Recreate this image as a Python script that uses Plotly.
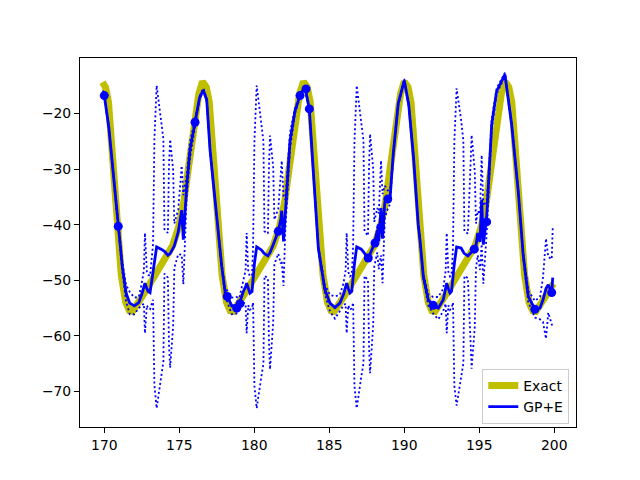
import plotly.graph_objects as go

# Exact solution
exact_x = [169.88, 170.08, 170.28, 170.53, 170.83, 171.13, 171.43, 171.68, 171.88, 172.13, 172.53, 172.93,
           173.33, 173.73, 174.13, 174.55, 174.95, 175.3, 175.6, 175.85, 176.1, 176.3,
           176.55, 176.8, 177.0, 177.25, 177.55, 177.85, 178.15, 178.4, 178.6, 178.85, 179.25, 179.65,
           180.05, 180.45, 180.85, 181.27, 181.67, 182.02, 182.32, 182.57, 182.82, 183.02,
           183.28, 183.53, 183.73, 183.98, 184.28, 184.58, 184.88, 185.13, 185.33, 185.58, 185.98, 186.38,
           186.78, 187.18, 187.58, 188.0, 188.4, 188.75, 189.05, 189.3, 189.55, 189.75,
           190.0, 190.25, 190.45, 190.7, 191.0, 191.3, 191.6, 191.85, 192.05, 192.3, 192.7, 193.1,
           193.5, 193.9, 194.3, 194.72, 195.12, 195.47, 195.77, 196.02, 196.27, 196.47,
           196.72, 196.97, 197.17, 197.42, 197.72, 198.02, 198.32, 198.57, 198.77, 199.02, 199.42, 199.94]
exact_y = [-14.4, -15.3, -18.0, -28.0, -40.5, -49.0, -54.0, -55.5, -55.6, -54.7, -52.9, -51.1,
           -49.4, -47.7, -46.0, -43.8, -40.5, -36.0, -30.0, -24.5, -19.8, -16.5,
           -14.3, -15.3, -18.0, -28.0, -40.5, -49.0, -54.0, -55.5, -55.6, -54.7, -52.9, -51.1,
           -49.4, -47.7, -46.0, -43.8, -40.5, -36.0, -30.0, -24.5, -19.8, -16.5,
           -14.3, -15.3, -18.0, -28.0, -40.5, -49.0, -54.0, -55.5, -55.6, -54.7, -52.9, -51.1,
           -49.4, -47.7, -46.0, -43.8, -40.5, -36.0, -30.0, -24.5, -19.8, -16.5,
           -14.3, -15.3, -18.0, -28.0, -40.5, -49.0, -54.0, -55.5, -55.6, -54.7, -52.9, -51.1,
           -49.4, -47.7, -46.0, -43.8, -40.5, -36.0, -30.0, -24.5, -19.8, -16.5,
           -14.3, -15.3, -18.0, -28.0, -40.5, -49.0, -54.0, -55.5, -55.6, -54.7, -52.9, -50.6]

# GP+E mean and band half-width (x, mean, half-width)
gp_x = [169.9, 170.0, 170.3, 170.6, 170.93, 171.2, 171.45, 171.7, 172.0, 172.3,
        172.5, 172.64, 172.71, 172.84, 172.93, 173.05, 173.25, 173.34, 173.49, 173.79, 173.94, 174.01,
        174.24, 174.31, 174.39, 174.59, 174.67, 174.93, 175.16, 175.27, 175.4, 175.49,
        175.71, 176.05, 176.35, 176.6, 176.83, 177.05, 177.49, 177.83, 178.05, 178.2, 178.5, 178.8, 179.0,
        179.27, 179.42, 179.49, 179.6, 179.71, 179.85, 179.92, 180.01, 180.16, 180.46, 180.61, 180.68,
        180.91, 180.98, 181.05, 181.26, 181.34, 181.6, 181.77, 181.83, 181.95, 182.06, 182.16,
        182.38, 182.71, 183.05, 183.38, 183.67, 183.95, 184.27, 184.71, 185.05, 185.38, 185.71,
        185.95, 186.09, 186.16, 186.27, 186.38, 186.5, 186.59, 186.68, 186.83, 187.13, 187.28, 187.35,
        187.58, 187.65, 187.72, 187.93, 188.0, 188.2, 188.3, 188.45, 188.55, 188.7, 188.83,
        189.05, 189.27, 189.6, 190.0, 190.3, 190.62, 190.93, 191.05, 191.27, 191.6, 191.93, 192.27,
        192.6, 192.76, 192.83, 192.94, 193.05, 193.15, 193.25, 193.34, 193.49, 193.79, 193.94, 194.01,
        194.24, 194.42, 194.49, 194.7, 194.78, 194.9, 195.05, 195.16, 195.27, 195.49, 195.6,
        195.83, 196.16, 196.71, 197.16, 197.6, 197.93, 198.27, 198.71, 199.05,
        199.25, 199.45, 199.6, 199.83, 199.9]
gp_mean = [-16.2, -16.8, -22.5, -31.0, -40.3, -47.5, -52.3, -54.1, -54.6, -54.0,
           -52.5, -51.2, -50.5, -51.5, -52.0, -52.2, -48.5, -46.8, -44.0, -44.4, -44.6, -44.8,
           -45.5, -45.4, -45.2, -44.2, -43.8, -41.3, -37.4, -42.7, -36.0, -33.2,
           -26.6, -21.6, -17.2, -15.8, -17.6, -26.6, -38.6, -47.5, -52.0, -52.9, -54.6, -54.5, -54.2,
           -52.0, -51.2, -50.5, -51.5, -52.3, -52.0, -49.0, -47.0, -44.0, -44.5, -45.0, -45.2,
           -45.6, -45.3, -45.0, -43.6, -43.1, -41.2, -39.0, -37.5, -43.0, -38.5, -34.0,
           -25.0, -19.6, -16.8, -15.3, -19.2, -31.0, -44.2, -51.7, -54.1, -54.9, -54.1,
           -52.5, -51.2, -50.5, -51.5, -52.3, -52.0, -49.0, -47.0, -44.0, -44.4, -44.9, -45.2,
           -46.0, -45.7, -45.2, -44.0, -43.5, -41.0, -43.0, -37.0, -42.5, -36.0, -35.6,
           -35.3, -27.2, -18.2, -14.1, -18.5, -28.0, -40.0, -42.8, -49.3, -53.5, -54.5, -55.0,
           -53.5, -51.2, -50.5, -51.5, -52.3, -52.0, -49.0, -47.0, -44.0, -44.2, -44.9, -45.2,
           -45.6, -45.0, -44.9, -44.4, -43.8, -41.5, -43.1, -35.5, -43.6, -38.8, -34.0,
           -22.0, -16.0, -13.0, -22.0, -34.0, -45.5, -52.9, -55.2, -55.0,
           -53.5, -51.5, -50.8, -52.2, -49.5]
gp_w = [0.3, 0.2, 0.3, 0.4, 0.3, 0.8, 1.5, 2.0, 1.5, 1.0,
        2.0, 3.0, 9.0, 3.0, 3.0, 3.0, 5.0, 22.0, 29.0, 23.0, 20.0, 4.0,
        4.0, 16.0, 20.5, 14.0, 4.0, 4.0, 8.0, 8.0, 3.0, 2.0,
        1.5, 0.5, 0.3, 0.3, 0.3, 0.3, 0.3, 0.5, 0.8, 1.0, 1.5, 1.5, 1.0,
        2.0, 3.0, 9.0, 3.0, 3.0, 3.0, 5.0, 22.0, 29.0, 23.0, 20.0, 4.0,
        4.0, 16.0, 21.0, 14.0, 4.0, 4.0, 8.0, 9.0, 8.0, 3.0, 2.0,
        1.5, 0.5, 0.3, 0.3, 0.3, 0.3, 0.3, 0.8, 1.5, 2.0, 1.5,
        2.0, 3.0, 9.0, 3.0, 3.0, 3.0, 5.0, 22.0, 29.0, 23.0, 20.0, 4.0,
        4.0, 16.0, 21.5, 14.0, 4.0, 4.0, 5.0, 8.5, 8.0, 3.0, 2.0,
        1.0, 0.5, 0.3, 0.3, 0.3, 0.3, 0.3, 0.3, 0.5, 1.0, 1.5, 2.0,
        2.0, 3.0, 9.0, 3.0, 3.0, 3.0, 5.0, 22.0, 28.5, 23.0, 20.0, 4.0,
        4.0, 16.0, 21.0, 14.0, 4.0, 4.0, 5.0, 8.0, 7.0, 3.0, 2.0,
        1.0, 0.5, 0.3, 0.3, 0.3, 0.5, 1.0, 1.5, 2.0,
        4.0, 9.0, 5.0, 6.0, 9.0]

# Observations
obs_x = [170.0, 170.93, 176.05, 178.2, 178.83, 179.05, 181.6, 183.05, 183.45, 183.67,
         187.6, 188.05, 188.43, 188.9, 191.93, 194.67, 195.49, 198.71, 199.83]
obs_y = [-16.8, -40.3, -21.6, -52.9, -55.0, -54.2, -41.2, -16.8, -15.6, -19.2,
         -46.0, -43.3, -40.5, -35.4, -54.5, -44.4, -39.5, -55.2, -52.2]

x_ticks = [170, 175, 180, 185, 190, 195, 200]
y_ticks = [-70, -60, -50, -40, -30, -20]

upper = [m + w for m, w in zip(gp_mean, gp_w)]
lower = [m - w for m, w in zip(gp_mean, gp_w)]

blue = "#0000ff"
fig = go.Figure()
fig.add_trace(go.Scatter(x=exact_x, y=exact_y, mode="lines", name="Exact",
                         line=dict(color="#bfbf00", width=7)))
fig.add_trace(go.Scatter(x=gp_x, y=upper, mode="lines", showlegend=False,
                         line=dict(color=blue, width=1.8, dash="2px,2.6px")))
fig.add_trace(go.Scatter(x=gp_x, y=lower, mode="lines", showlegend=False,
                         line=dict(color=blue, width=1.8, dash="2px,2.6px")))
fig.add_trace(go.Scatter(x=gp_x, y=gp_mean, mode="lines", name="GP+E",
                         line=dict(color=blue, width=2.8)))
fig.add_trace(go.Scatter(x=obs_x, y=obs_y, mode="markers", showlegend=False,
                         marker=dict(color=blue, size=9)))

axis_common = dict(showgrid=False, zeroline=False, showline=True, linecolor="black", linewidth=1,
                   mirror=True, ticks="outside", ticklen=5, tickwidth=1, tickcolor="black",
                   tickfont=dict(family="DejaVu Sans", size=13.9, color="black"))
fig.update_xaxes(range=[168.38, 201.45], tickvals=x_ticks, ticktext=[str(v) for v in x_ticks], **axis_common)
fig.update_yaxes(range=[-76.36, -10.05], tickvals=y_ticks,
                 ticktext=["\u2212" + str(abs(v)) for v in y_ticks], **axis_common)

fig.update_layout(
    width=640, height=480,
    margin=dict(l=80, r=64, t=58, b=53),
    paper_bgcolor="white", plot_bgcolor="white",
    font=dict(family="DejaVu Sans", size=13.9, color="black"),
    legend=dict(x=0.9865, y=0.008, xanchor="right", yanchor="bottom",
                bgcolor="rgba(255,255,255,0.8)", bordercolor="#cccccc", borderwidth=1,
                font=dict(family="DejaVu Sans", size=13.9, color="black"),
                tracegroupgap=0, itemwidth=30),
)

fig.write_html("out.html")
